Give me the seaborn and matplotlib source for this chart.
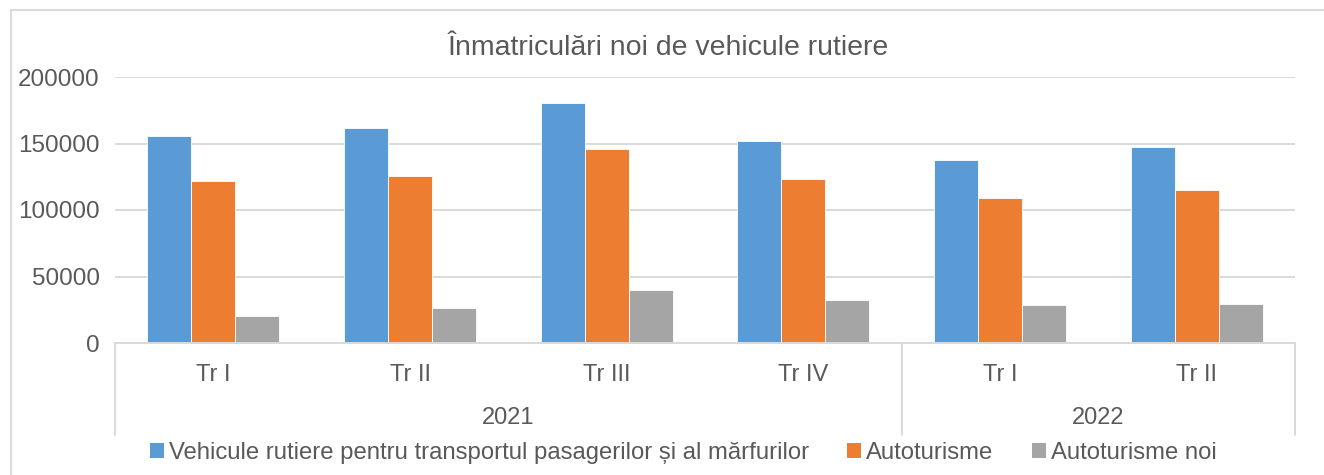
import matplotlib
matplotlib.use("Agg")
import matplotlib.pyplot as plt
from matplotlib.patches import Patch, Rectangle
from matplotlib.lines import Line2D
import seaborn as sns
import pandas as pd

# ---- data ----
years = ["2021", "2021", "2021", "2021", "2022", "2022"]
quarters = ["Tr I", "Tr II", "Tr III", "Tr IV", "Tr I", "Tr II"]
series_names = [
    "Vehicule rutiere pentru transportul pasagerilor și al mărfurilor",
    "Autoturisme",
    "Autoturisme noi",
]
vehicule = [155500, 161800, 180200, 151700, 137600, 147700]
autoturisme = [122000, 125500, 146200, 123500, 109000, 115000]
autoturisme_noi = [20500, 26600, 40200, 32600, 28600, 29300]
title = "Înmatriculări noi de vehicule rutiere"
yticks = [0, 50000, 100000, 150000, 200000]
colors = ["#5B9BD5", "#ED7D31", "#A5A5A5"]

fam = "Liberation Sans"
sns.set_theme(style="white")
plt.rcParams["font.family"] = [fam, "DejaVu Sans"]
txt_color = "#595959"
grid_color = "#D9D9D9"

cats = [f"{y} {q}" for y, q in zip(years, quarters)]
rows = []
for name, vals in zip(series_names, [vehicule, autoturisme, autoturisme_noi]):
    for c, v in zip(cats, vals):
        rows.append({"cat": c, "serie": name, "val": v})
df = pd.DataFrame(rows)

W, H = 1324, 475
fig = plt.figure(figsize=(W / 100, H / 100), dpi=100)
fig.patch.set_facecolor("white")
x0, x1, ytop, ybot = 115, 1295, 77, 343
ax = fig.add_axes([x0 / W, 1 - ybot / H, (x1 - x0) / W, (ybot - ytop) / H])

sns.barplot(data=df, x="cat", y="val", hue="serie", order=cats,
            hue_order=series_names, palette=colors, width=0.67,
            saturation=1, ax=ax, legend=False, edgecolor="white", linewidth=0.6)

ax.set_xlim(-0.5, len(cats) - 0.5)
ax.set_ylim(0, 200000)
ax.set_yticks(yticks)
ax.set_yticklabels([str(t) for t in yticks], fontsize=17.5, color=txt_color)
ax.tick_params(axis="y", length=0, pad=11)
ax.set_xticks([])
ax.set_xlabel("")
ax.set_ylabel("")
ax.grid(axis="y", color=grid_color, linewidth=1.4)
ax.set_axisbelow(True)
for s in ["top", "right", "left"]:
    ax.spines[s].set_visible(False)
ax.spines["bottom"].set_color(grid_color)
ax.spines["bottom"].set_linewidth(1.4)

# multi-level category axis
trans = ax.get_xaxis_transform()
ax_h = (ybot - ytop)
def yax(py):
    return (ybot - py) / ax_h

for i, q in enumerate(quarters):
    ax.text(i, yax(375), q, ha="center", va="center", fontsize=17,
            color=txt_color, transform=trans)
groups = []
for i, y in enumerate(years):
    if not groups or groups[-1][0] != y:
        groups.append([y, i, i])
    else:
        groups[-1][2] = i
bounds = [-0.5] + [g[2] + 0.5 for g in groups]
for b in bounds:
    ax.add_line(Line2D([b, b], [0, yax(435)], transform=trans, color=grid_color,
                       linewidth=1.4, clip_on=False))
for y, a, b in groups:
    ax.text((a + b) / 2, yax(418), y, ha="center", va="center", fontsize=17,
            color=txt_color, transform=trans)

fig.text(668 / W, 1 - 48 / H, title, ha="center", va="center", fontsize=20.5,
         color=txt_color)

handles = [Patch(facecolor=c, edgecolor="none") for c in colors]
fig.legend(handles, series_names, loc="center", bbox_to_anchor=(683 / W, 1 - 453 / H),
           ncol=3, frameon=False, fontsize=17.2, labelcolor=txt_color,
           handlelength=0.6, handleheight=0.6, handletextpad=0.2,
           columnspacing=1.6)

fig.add_artist(Rectangle((11 / W, -0.05), 1.1, 1 - 10 / H + 0.05,
                         transform=fig.transFigure, fill=False,
                         edgecolor=grid_color, linewidth=1.4))

fig.savefig("out.png", dpi=100, facecolor="white")
